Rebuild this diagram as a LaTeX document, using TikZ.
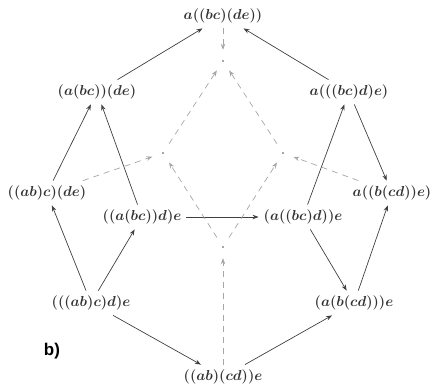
\documentclass[tikz,border=0pt]{standalone}
\usepackage{fontspec}
\setsansfont{Liberation Sans}
\usetikzlibrary{arrows.meta}
\begin{document}
\begin{tikzpicture}[x=1pt,y=-1pt,
  obj/.style={inner xsep=5pt, inner ysep=5pt, font=\fontsize{15.5}{19}\selectfont\boldmath, text=black!80},
  vx/.style={circle, minimum size=22pt, inner sep=0pt},
  mor/.style={draw=black!75, line width=0.7pt, -{Stealth[length=6pt,width=4.5pt]}},
  mod/.style={draw=black!35, line width=0.7pt, dash pattern=on 6pt off 5pt, -{Stealth[length=6pt,width=4.5pt]}},
]
\useasboundingbox (0,0) rectangle (430,387);

% bracketings of abcde
\node[obj] (top) at (223,16) {$a((bc)(de))$};
\node[obj] (l1) at (97,92) {$(a(bc))(de)$};
\node[obj] (r1) at (349,92) {$a(((bc)d)e)$};
\node[obj] (l2) at (47,193) {$((ab)c)(de)$};
\node[obj] (r2) at (392,193) {$a((b(cd))e)$};
\node[obj] (l3) at (142,217) {$((a(bc))d)e$};
\node[obj] (r3) at (303,217) {$(a((bc)d))e$};
\node[obj] (l4) at (91,303) {$(((ab)c)d)e$};
\node[obj] (r4) at (354,303) {$(a(b(cd)))e$};
\node[obj] (bot) at (223,377) {$((ab)(cd))e$};

% inner points
\node[vx] (pt) at (223,61) {};
\node[vx] (pl) at (163,153) {};
\node[vx] (pr) at (283,153) {};
\node[vx] (pb) at (223,247) {};
\foreach \p in {pt,pl,pr,pb} \fill[black!70] (\p) circle (0.9pt);

% outer arrows
\draw[mor] (l1) -- (top);
\draw[mor] (r1) -- (top);
\draw[mor] (l2) -- (l1);
\draw[mor] (l3) -- (l1);
\draw[mor] (l3) -- (r3);
\draw[mor] (r3) -- (r1);
\draw[mor] (r1) -- (r2);
\draw[mor] (r3) -- (r4);
\draw[mor] (r4) -- (r2);
\draw[mor] (l4) -- (l2);
\draw[mor] (l4) -- (l3);
\draw[mor] (l4) -- (bot);
\draw[mor] (bot) -- (r4);

% inner dashed arrows
\draw[mod] (top) -- (pt);
\draw[mod] (pl) -- (pt);
\draw[mod] (pr) -- (pt);
\draw[mod] (l2) -- (pl);
\draw[mod] (r2) -- (pr);
\draw[mod] (pb) -- (pl);
\draw[mod] (pb) -- (pr);
\draw[mod] (bot) -- (pb);

\node[font=\sffamily\bfseries\fontsize{17}{20}\selectfont] (lab) at (52,351) {b)};
\end{tikzpicture}
\end{document}
